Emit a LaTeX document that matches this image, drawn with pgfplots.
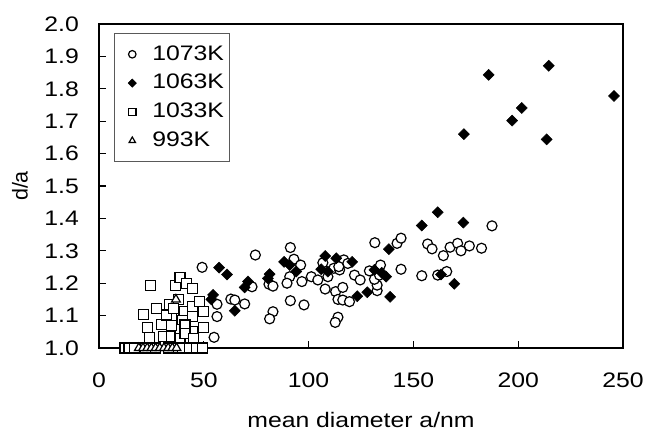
\documentclass[border=0pt]{standalone}
\usepackage{fontspec}
\setmainfont{Liberation Sans}
\usepackage{graphicx}
\usepackage{pgfplots}
\pgfplotsset{compat=1.18}
\newcommand{\wide}[1]{\scalebox{1.18}[1]{#1}}
\begin{document}
\fontsize{21}{24}\selectfont
\begin{tikzpicture}
\begin{axis}[
  scale only axis, width=524pt, height=324pt,
  xmin=0, xmax=250, ymin=1, ymax=2,
  xtick={0,50,100,150,200,250},
  ytick={1.0,1.1,1.2,1.3,1.4,1.5,1.6,1.7,1.8,1.9,2.0},
  tick align=inside, xtick pos=bottom, ytick pos=left,
  major tick length=7pt,
  axis line style={line width=1.3pt},
  every tick/.style={line width=1.3pt, black},
  /pgf/number format/assume math mode=true,
  tick label style={font=\fontsize{21}{24}\selectfont},
  xticklabel={\wide{\pgfmathprintnumber{\tick}}},
  yticklabel={\wide{\pgfmathprintnumber[fixed, fixed zerofill, precision=1]{\tick}}},
  yticklabel style={xshift=-13pt},
  xticklabel style={yshift=-18pt},
  xlabel={\wide{mean diameter a/nm}},
  ylabel={d/a},
  x label style={at={(axis description cs:0.5,-0.2222)}, anchor=center, font=\fontsize{21}{24}\selectfont},
  y label style={at={(axis description cs:-0.1508,0.5)}, anchor=center, font=\fontsize{21.5}{24}\selectfont},
  legend style={at={(0.0286,0.972)}, anchor=north west, draw=black!65, line width=0.6pt,
    font=\fontsize{21}{24}\selectfont, row sep=7pt, inner xsep=3pt, inner ysep=10pt,
    column sep=8pt, nodes={inner sep=2pt}},
  legend cell align=left,
  legend image code/.code={\path[draw=none] (-15pt,0pt) -- (10pt,0pt); \draw[#1, every mark/.append style={scale=0.75}] plot coordinates {(0pt,0pt)};},
]
% 1073K circles
\addplot[only marks, mark=*, mark size=5pt, mark options={fill=white, draw=black, line width=1.2pt}] coordinates {
(49.2,1.249) (74.6,1.287) (81.1,1.197) (83.0,1.191) (73.0,1.189) (91.3,1.310)
(93.0,1.274) (91.0,1.220) (89.7,1.200) (96.2,1.256) (96.8,1.205) (56.3,1.135)
(56.3,1.097) (54.9,1.033) (62.9,1.151) (64.8,1.148) (69.5,1.136) (83.0,1.112)
(81.4,1.090) (91.3,1.146) (97.8,1.133) (101.3,1.220) (104.4,1.210) (106.8,1.263)
(116.8,1.272) (118.7,1.261) (112.0,1.246) (114.8,1.241) (109.2,1.220) (107.9,1.182)
(112.9,1.174) (116.3,1.187) (114.0,1.150) (116.3,1.148) (119.5,1.143) (114.0,1.095)
(112.7,1.079) (121.9,1.225) (124.6,1.210) (132.7,1.177) (132.7,1.194) (131.4,1.212)
(129.0,1.238) (134.3,1.256) (133.8,1.225) (131.6,1.325) (142.2,1.323) (144.1,1.339)
(144.1,1.243) (154.0,1.223) (161.6,1.225) (165.9,1.236) (156.8,1.321) (158.9,1.306)
(164.3,1.285) (167.5,1.311) (171.1,1.323) (172.7,1.300) (176.7,1.315) (182.5,1.308)
(187.5,1.377) (114.4,1.251) (39.8,1.0) (46.5,1.0)
};
\addlegendentry{\wide{1073K}}
% 1063K diamonds
\addplot[only marks, mark=square*, mark size=3.9pt, mark options={rotate=45, fill=black, draw=black, line width=0.5pt}] coordinates {
(185.9,1.843) (214.6,1.871) (245.7,1.778) (201.7,1.741) (197.1,1.702) (174.1,1.660)
(213.6,1.644) (161.6,1.419) (154.0,1.378) (173.8,1.387) (163.2,1.227) (169.5,1.198)
(138.3,1.305) (107.9,1.284) (113.2,1.277) (120.8,1.266) (106.0,1.243) (109.2,1.236)
(123.2,1.160) (128.0,1.172) (138.9,1.158) (131.4,1.241) (134.9,1.232) (137.0,1.220)
(57.3,1.248) (61.1,1.227) (81.4,1.228) (80.6,1.215) (71.1,1.205) (69.5,1.187)
(88.3,1.266) (91.0,1.256) (94.1,1.236) (54.4,1.164) (53.6,1.150) (64.8,1.115)
};
\addlegendentry{\wide{1063K}}
% 1033K squares
\addplot[only marks, mark=square*, mark size=5pt, mark options={fill=white, draw=black, line width=1.2pt}] coordinates {
(24.6,1.193) (21.4,1.104) (23.0,1.064) (24.0,1.033) (27.5,1.121) (29.9,1.073)
(30.6,1.035) (33.5,1.135) (34.6,1.095) (34.6,1.035) (36.5,1.193) (38.6,1.218)
(41.7,1.200) (44.6,1.183) (38.1,1.150) (40.6,1.112) (39.9,1.084) (38.6,1.058)
(38.6,1.030) (44.6,1.128) (44.6,1.097) (44.6,1.050) (47.8,1.143) (49.7,1.112)
(49.7,1.064) (32.2,1.102) (34.6,1.070) (41.0,1.071) (35.4,1.122) (41.0,1.045)
(44.9,1.030)
(12.4,1.0) (14.3,1.0) (17.0,1.0) (22.0,1.0) (27.0,1.0) (33.0,1.0) (38.0,1.0)
(40.0,1.0) (43.3,1.0) (46.7,1.0) (49.5,1.0)
};
\addlegendentry{\wide{1033K}}
% 993K triangles
\addplot[only marks, mark=triangle*, mark size=5pt, mark options={fill=white, draw=black, line width=1.2pt}] coordinates {
(36.7,1.150) (19,1.0) (21,1.0) (23,1.0) (25,1.0) (27,1.0) (29,1.0) (31,1.0)
(33,1.0) (35,1.0) (37,1.0)
};
\addlegendentry{\wide{993K}}
\coordinate (ll) at (rel axis cs:0,0);
\coordinate (ur) at (rel axis cs:1,1);
\end{axis}
\pgfresetboundingbox
\path[use as bounding box] ([shift={(-99pt,-86pt)}]ll) rectangle ([shift={(22pt,24pt)}]ur);
\end{tikzpicture}
\end{document}
